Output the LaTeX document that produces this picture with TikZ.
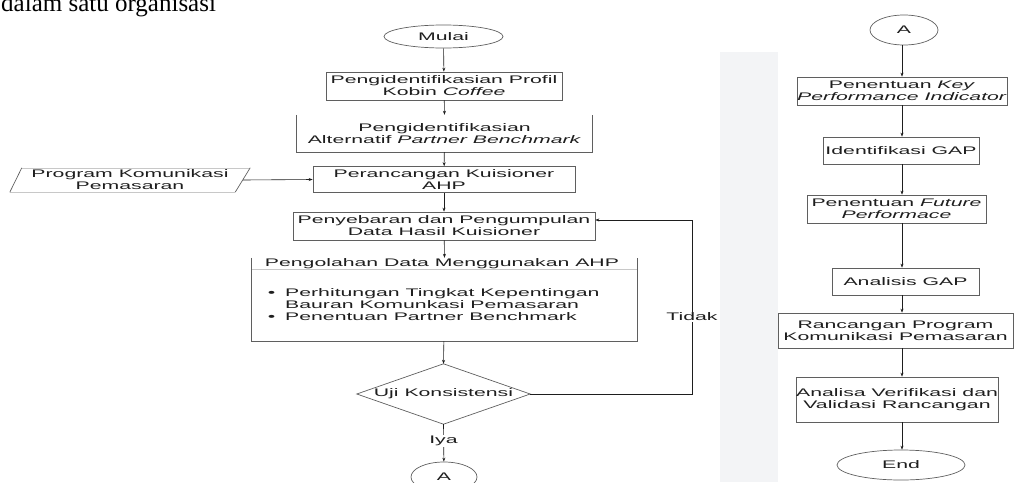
\documentclass[tikz,border=0pt]{standalone}
\usepackage{fontspec}
\setmainfont{Liberation Sans}[FakeStretch=1.93]
\newfontfamily\serifx{Liberation Serif}
\usetikzlibrary{shapes.geometric,arrows.meta,calc}
\definecolor{band}{RGB}{243,244,246}
\definecolor{edge}{RGB}{95,95,95}
\definecolor{lightedge}{RGB}{200,200,200}
\definecolor{ink}{RGB}{30,30,30}
\begin{document}
\begin{tikzpicture}[x=1pt,y=-1pt,
  every node/.style={inner sep=0pt, font=\fontsize{11}{12}\selectfont, text=ink},
  box/.style={rectangle, draw=edge, line width=0.7pt, align=center},
  openbox/.style={rectangle, align=center},
  oval/.style={ellipse, draw=edge, line width=0.7pt},
  side/.style={draw=edge, line width=0.7pt},
  faint/.style={draw=lightedge, line width=0.6pt},
  arr/.style={draw=ink, line width=0.6pt, -{Stealth[length=4pt,width=3pt]}},
  lbl/.style={fill=white, inner sep=1pt}]
\useasboundingbox (0,0) rectangle (1014,482);
\fill[band] (720,52) rectangle (778,482);
% top cut text
\node[anchor=base west, font=\serifx\fontsize{25}{25}\selectfont, text=black] (toptext) at (1,11.5) {dalam satu organisasi};
% left column
\node[oval, minimum width=119pt, minimum height=23pt] (mulai) at (443.5,36.5) {Mulai};
\node[box, minimum width=236pt, minimum height=28pt] (b1) at (444,86) {Pengidentifikasian Profil\\Kobin \textit{Coffee}};
\node[openbox, minimum width=295pt, minimum height=37pt] (b2) at (444.5,133.5) {Pengidentifikasian\\Alternatif \textit{Partner Benchmark}};
\draw[side] (b2.north west) -- (b2.south west) -- (b2.south east) -- (b2.north east);
\node[box, minimum width=262pt, minimum height=26pt] (b3) at (444,179.5) {Perancangan Kuisioner\\AHP};
\node[box, minimum width=302pt, minimum height=28pt] (b4) at (444,226) {Penyebaran dan Pengumpulan\\Data Hasil Kuisioner};
\node[openbox, minimum width=385pt, minimum height=83pt] (b5) at (444.5,299.5) {};
\draw[side] (b5.north west) -- (b5.south west) -- (b5.south east) -- (b5.north east);
\node (b5t) at (442,264) {Pengolahan Data Menggunakan AHP};
\draw[faint] ([yshift=-11pt]b5.north west) -- ([yshift=-11pt]b5.north east);
\node[anchor=west, align=left] (b5l) at (285,305) {\llap{\textbullet\hspace{10pt}}Perhitungan Tingkat Kepentingan\\Bauran Komunkasi Pemasaran\\\llap{\textbullet\hspace{10pt}}Penentuan Partner Benchmark};
\node[openbox, minimum width=173pt, minimum height=60pt] (uji) at (443.5,394) {Uji Konsistensi};
\draw[side] (uji.west) -- (uji.north) -- (uji.east) -- (uji.south) -- cycle;
\node[oval, minimum width=66pt, minimum height=30pt] (ab) at (444,477) {A};
\node (prog) at (130,180) [openbox, minimum width=240pt, minimum height=24pt] {Program Komunikasi\\Pemasaran};
\draw[faint] ([xshift=12pt]prog.north west) -- (prog.north east);
\draw[faint] (prog.south west) -- ([xshift=-15pt]prog.south east);
\draw[side] (prog.south west) -- ([xshift=12pt]prog.north west);
\draw[side] (prog.north east) -- ([xshift=-15pt]prog.south east);
\coordinate (loopc) at (692,394);
% left connectors
\draw[arr] (mulai) -- (b1);
\draw[arr] (b1) -- (b2.north);
\draw[arr] (b2) -- (b3);
\draw[arr] ([xshift=-7pt]prog.east) -- (b3.west);
\draw[arr] (b3) -- (b4);
\draw[arr] (b4) -- (b5.north);
\draw[arr] (b5) -- (uji.north);
\draw[arr] (uji.south) -- (ab);
\node[lbl] (iya) at (443.5,441) {Iya};
\draw[arr] (uji.east) -- (loopc) |- ([yshift=6pt]b4.east);
\node[lbl] (tidak) at (692,317) {Tidak};
% right column
\coordinate (col) at (902,0);
\node[oval, minimum width=68pt, minimum height=30pt] (at) at (904,30) {A};
\node[box, minimum width=210pt, minimum height=28pt] (r1) at (902,91) {Penentuan \textit{Key}\\\textit{Performance Indicator}};
\node[box, minimum width=156pt, minimum height=27pt] (r2) at (901,150.5) {Identifikasi GAP};
\node[box, minimum width=179pt, minimum height=28pt] (r3) at (896.5,209) {Penentuan \textit{Future}\\\textit{Performace}};
\node[box, minimum width=147pt, minimum height=27pt] (r4) at (905.5,281.5) {Analisis GAP};
\node[box, minimum width=235pt, minimum height=35pt] (r5) at (895.5,330.5) {Rancangan Program\\Komunikasi Pemasaran};
\node[box, minimum width=200pt, minimum height=45pt] (r6) at (897,399.5) {Analisa Verifikasi dan\\Validasi Rancangan};
\node[oval, minimum width=128pt, minimum height=30pt] (endn) at (901,465) {End};
\draw[arr] (at.south -| col) -- (r1.north -| col);
\draw[arr] (r1.south -| col) -- (r2.north -| col);
\draw[arr] (r2.south -| col) -- (r3.north -| col);
\draw[arr] (r3.south -| col) -- (r4.north -| col);
\draw[arr] (r4.south -| col) -- (r5.north -| col);
\draw[arr] (r5.south -| col) -- (r6.north -| col);
\draw[arr] (r6.south -| col) -- (endn.north -| col);
\end{tikzpicture}
\end{document}
